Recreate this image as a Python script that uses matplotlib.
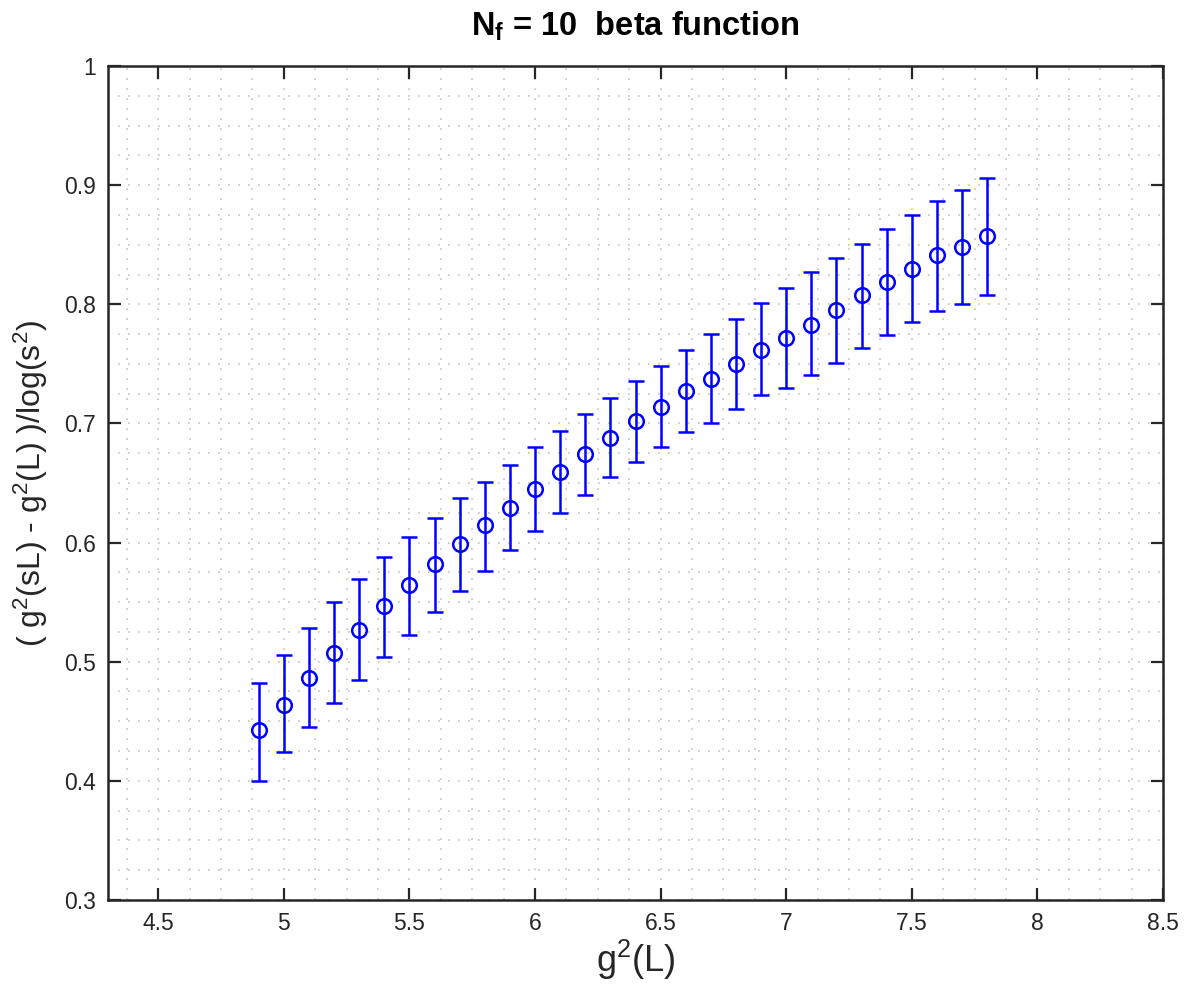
import matplotlib
matplotlib.use("Agg")
import matplotlib.pyplot as plt
import numpy as np
from matplotlib.ticker import MultipleLocator

plt.rcParams["font.family"] = ["Liberation Sans", "DejaVu Sans"]
plt.rcParams["mathtext.fontset"] = "custom"
plt.rcParams["mathtext.rm"] = "Liberation Sans"
plt.rcParams["mathtext.it"] = "Liberation Sans:italic"
plt.rcParams["mathtext.bf"] = "Liberation Sans:bold"

# coupling g^2(L) and discrete beta function with asymmetric error ends
g2 = [4.9, 5.0, 5.1, 5.2, 5.3, 5.4, 5.5, 5.6, 5.7, 5.8,
      5.9, 6.0, 6.1, 6.2, 6.3, 6.4, 6.5, 6.6, 6.7, 6.8,
      6.9, 7.0, 7.1, 7.2, 7.3, 7.4, 7.5, 7.6, 7.7, 7.8]
beta = [0.443, 0.464, 0.486, 0.507, 0.527, 0.547, 0.564, 0.582, 0.599, 0.615,
        0.629, 0.645, 0.659, 0.674, 0.688, 0.702, 0.714, 0.727, 0.737, 0.750,
        0.762, 0.772, 0.783, 0.795, 0.808, 0.819, 0.830, 0.841, 0.848, 0.857]
beta_hi = [0.482, 0.506, 0.528, 0.550, 0.569, 0.588, 0.605, 0.621, 0.637, 0.651,
           0.665, 0.680, 0.694, 0.708, 0.721, 0.736, 0.748, 0.762, 0.775, 0.788,
           0.801, 0.814, 0.827, 0.839, 0.851, 0.863, 0.875, 0.887, 0.896, 0.906]
beta_lo = [0.400, 0.424, 0.445, 0.465, 0.485, 0.504, 0.522, 0.542, 0.559, 0.576,
           0.594, 0.610, 0.625, 0.640, 0.655, 0.668, 0.680, 0.693, 0.700, 0.712,
           0.724, 0.730, 0.741, 0.751, 0.763, 0.774, 0.785, 0.794, 0.800, 0.808]

x = np.array(g2)
y = np.array(beta)
yerr = np.vstack([y - np.array(beta_lo), np.array(beta_hi) - y])

fig = plt.figure(figsize=(11.86, 9.84), dpi=100)
ax = fig.add_axes([0.0911, 0.0854, 0.8895, 0.8475])

ax.errorbar(x, y, yerr=yerr, fmt="o", color="#0000ff", mfc="none",
            markersize=10.5, markeredgewidth=1.8, elinewidth=1.8,
            capsize=6, capthick=1.8, zorder=3)

ax.set_xlim(4.3, 8.5)
ax.set_ylim(0.3, 1.0)
ax.xaxis.set_major_locator(MultipleLocator(0.5))
ax.xaxis.set_minor_locator(MultipleLocator(0.125))
ax.yaxis.set_major_locator(MultipleLocator(0.1))
ax.yaxis.set_minor_locator(MultipleLocator(0.025))
ax.set_xticklabels([f"{v:g}" for v in ax.get_xticks()])
ax.set_yticklabels([f"{v:g}" for v in ax.get_yticks()])

# sparse dotted grid on both major and minor positions
dots = (0, (1, 5))
ax.grid(True, which="major", color="#c4c4c4", linestyle=dots, linewidth=1.2)
ax.grid(True, which="minor", color="#c4c4c4", linestyle=dots, linewidth=1.2)
ax.set_axisbelow(True)

ax.tick_params(which="major", direction="in", length=9, width=1.6,
               top=True, right=True, labelsize=16.5, colors="#262626", pad=9)
ax.tick_params(which="minor", length=0, top=True, right=True)
for s in ax.spines.values():
    s.set_linewidth(1.8)
    s.set_color("#262626")

ax.set_xlabel("g$^2$(L)", fontsize=26, color="#262626", labelpad=2)
ax.set_ylabel("( g$^2$(sL) - g$^2$(L) )/log(s$^2$)", fontsize=23,
              color="#262626", labelpad=10)
ax.set_title(r"$\mathbf{N_f}$ = 10  beta function", fontsize=23.5,
             fontweight="bold", pad=22)

fig.savefig("out.png", dpi=100)
